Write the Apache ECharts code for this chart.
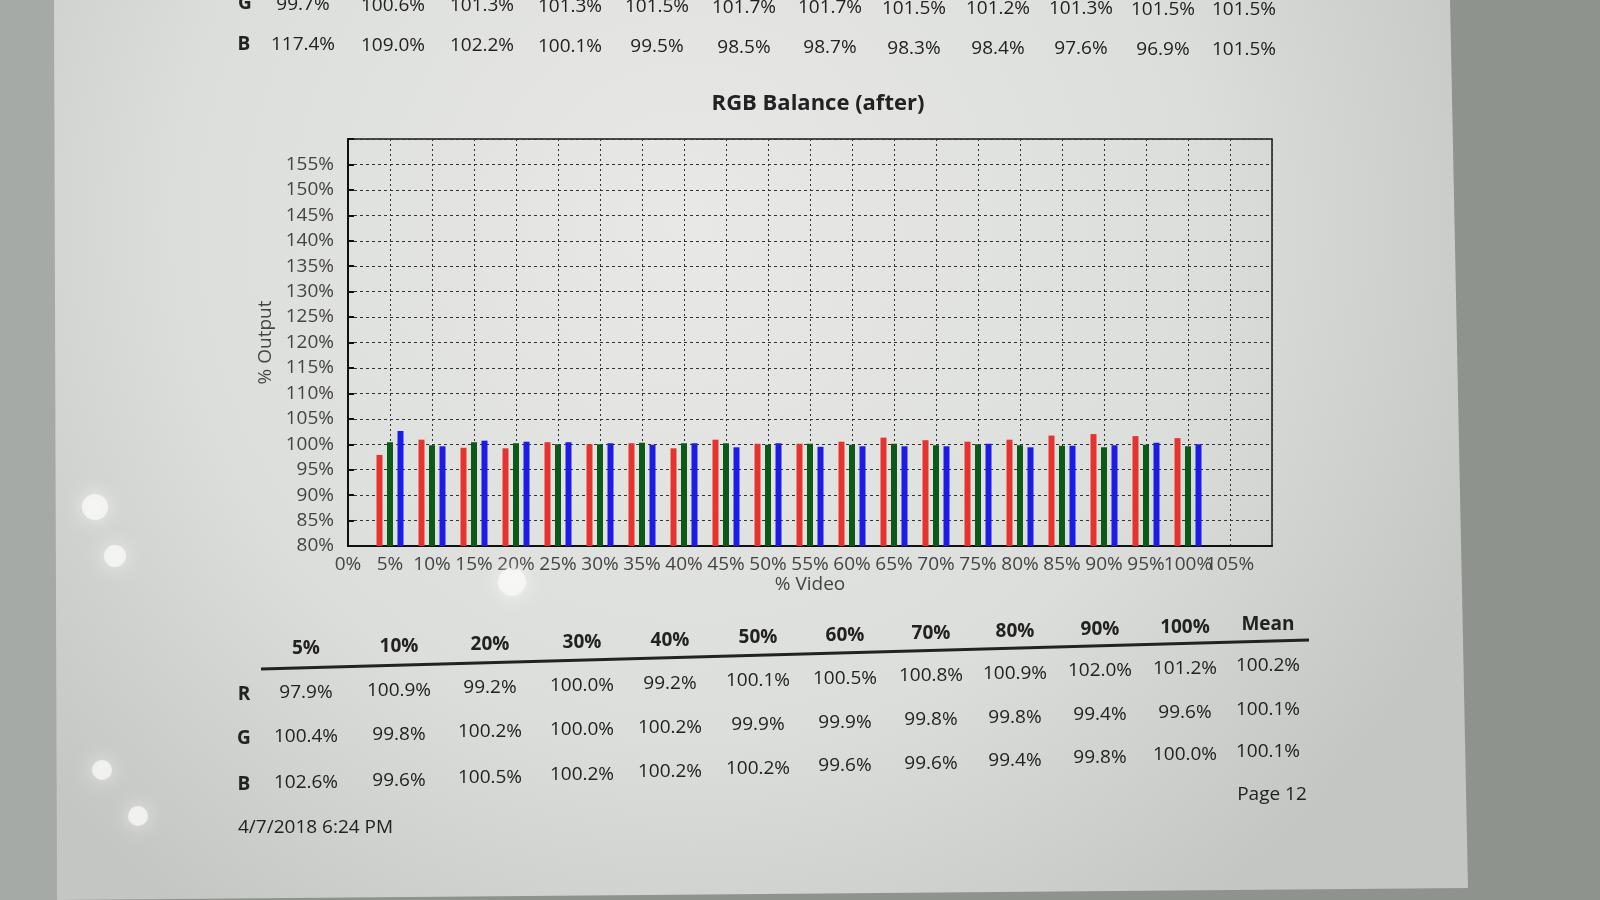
<!DOCTYPE html>
<html><head><meta charset="utf-8">
<script src="https://cdn.jsdelivr.net/npm/echarts@6/dist/echarts.min.js"></script>
<style>html,body{margin:0;padding:0;background:#9a9e9a}#c{width:1600px;height:900px}</style>
</head><body><div id="c"></div>
<script>
// ---------- DATA ----------
const xCategories = ['0%','5%','10%','15%','20%','25%','30%','35%','40%','45%','50%','55%','60%','65%','70%','75%','80%','85%','90%','95%','100%','105%','110%'];
const redValues   = [null,97.9,100.9,99.3,99.2,100.4,100.0,100.2,99.2,100.9,100.1,100.1,100.5,101.3,100.8,100.5,100.9,101.7,102.0,101.6,101.2,null,null];
const greenValues = [null,100.4,99.8,100.4,100.2,100.0,100.0,100.3,100.2,100.2,99.9,100.1,99.9,100.1,99.8,100.0,99.8,99.7,99.4,99.9,99.6,null,null];
const blueValues  = [null,102.6,99.6,100.7,100.5,100.4,100.2,99.9,100.2,99.4,100.2,99.5,99.6,99.6,99.6,100.1,99.4,99.7,99.8,100.3,100.0,null,null];
const yMin = 80, yMax = 160, yStep = 5;

// table above the chart (partially visible)
const topRowG = ['99.7%','100.6%','101.3%','101.3%','101.5%','101.7%','101.7%','101.5%','101.2%','101.3%','101.5%','101.5%'];
const topRowB = ['117.4%','109.0%','102.2%','100.1%','99.5%','98.5%','98.7%','98.3%','98.4%','97.6%','96.9%','101.5%'];

// table below the chart
const tableHeader = ['5%','10%','20%','30%','40%','50%','60%','70%','80%','90%','100%','Mean'];
const tableR = ['97.9%','100.9%','99.2%','100.0%','99.2%','100.1%','100.5%','100.8%','100.9%','102.0%','101.2%','100.2%'];
const tableG = ['100.4%','99.8%','100.2%','100.0%','100.2%','99.9%','99.9%','99.8%','99.8%','99.4%','99.6%','100.1%'];
const tableB = ['102.6%','99.6%','100.5%','100.2%','100.2%','100.2%','99.6%','99.6%','99.4%','99.8%','100.0%','100.1%'];

const chartTitle = 'RGB Balance (after)';
const pageLabel = 'Page 12';
const dateLabel = '4/7/2018 6:24 PM';

// ---------- LAYOUT ----------
const FONT = '"Open Sans","Noto Sans",sans-serif';
const topColX = [303,393,482,570,657,744,830,914,998,1081,1163,1244];
const botColX = [306,399,490,582,670,758,845,931,1015,1100,1185,1268];

function txt(text, x, y, size, opts) {
  opts = opts || {};
  return {
    type: 'text', z: 100,
    style: {
      text: text, x: x, y: y,
      font: (opts.bold ? 'bold ' : '') + size + 'px ' + FONT,
      fill: opts.color || '#222',
      align: opts.align || 'center', textAlign: opts.align || 'center',
      verticalAlign: 'middle', textVerticalAlign: 'middle'
    }
  };
}
function rowY(y0, y1, i) { return y0 + (y1 - y0) * i / 11; }

const graphics = [];
// photo background: screen bezel strips and page
graphics.push({ type: 'rect', z: -20, shape: { x: 0, y: 0, width: 60, height: 900 }, style: { fill: '#a6aaa7' } });
graphics.push({ type: 'polygon', z: -19, shape: { points: [[54,0],[1450,0],[1468,888],[57,900]] },
  style: { fill: new echarts.graphic.RadialGradient(0.45, 0.25, 0.95, [
    { offset: 0, color: '#e8e9e7' }, { offset: 0.6, color: '#dcdedb' }, { offset: 1, color: '#c3c6c2' }]) } });
// glare spots
[[95,507,13],[115,556,11],[102,770,10],[138,816,10],[512,582,14]].forEach(function (g) {
  graphics.push({ type: 'circle', z: 90, shape: { cx: g[0], cy: g[1], r: g[2] },
    style: { fill: 'rgba(250,250,248,0.75)', shadowBlur: 18, shadowColor: 'rgba(255,255,255,0.9)' } });
});

// top table
graphics.push(txt('G', 245, 4, 19, { bold: true }));
graphics.push(txt('B', 244, 45, 19, { bold: true }));
topRowG.forEach(function (v, i) { graphics.push(txt(v, topColX[i], rowY(5, 10, i), 19)); });
topRowB.forEach(function (v, i) { graphics.push(txt(v, topColX[i], rowY(45, 50, i), 19)); });

// title
graphics.push(txt(chartTitle, 818, 104, 22, { bold: true }));

// bottom table
tableHeader.forEach(function (v, i) { graphics.push(txt(v, botColX[i], rowY(649, 625, i), 19, { bold: true })); });
graphics.push({ type: 'line', z: 100, shape: { x1: 261, y1: 669, x2: 1309, y2: 640 }, style: { stroke: '#222', lineWidth: 3 } });
graphics.push(txt('R', 244, 695, 19, { bold: true }));
graphics.push(txt('G', 244, 739, 19, { bold: true }));
graphics.push(txt('B', 244, 785, 19, { bold: true }));
tableR.forEach(function (v, i) { graphics.push(txt(v, botColX[i], rowY(693, 666, i), 19)); });
tableG.forEach(function (v, i) { graphics.push(txt(v, botColX[i], rowY(737, 710, i), 19)); });
tableB.forEach(function (v, i) { graphics.push(txt(v, botColX[i], rowY(783, 752, i), 19)); });
graphics.push(txt(pageLabel, 1272, 795, 19));
graphics.push(txt(dateLabel, 238, 828, 19, { align: 'left' }));

// ---------- CHART ----------
const chart = echarts.init(document.getElementById('c'), null, { renderer: 'canvas' });
const barCommon = { type: 'bar', barWidth: 6, barGap: '75%', z: 5 };
chart.setOption({
  backgroundColor: '#8f938d',
  animation: false,
  graphic: { elements: graphics },
  grid: { left: 348, right: 328, top: 139, bottom: 354, show: true, borderColor: '#1a1a1a', borderWidth: 1.5, backgroundColor: 'transparent' },
  xAxis: {
    type: 'category', data: xCategories, boundaryGap: false,
    name: '% Video', nameLocation: 'middle', nameGap: 15,
    nameTextStyle: { fontFamily: FONT, fontSize: 19, color: '#444' },
    axisLine: { show: true, lineStyle: { color: '#111', width: 2 } },
    axisTick: { show: false },
    axisLabel: {
      interval: 0, margin: 9, fontFamily: FONT, fontSize: 19, color: '#444',
      formatter: function (v, i) { return i === xCategories.length - 1 ? '' : v; }
    },
    splitLine: { show: true, interval: 0, lineStyle: { color: '#333', width: 1, type: [2, 3] } }
  },
  yAxis: {
    type: 'value', min: yMin, max: yMax, interval: yStep,
    name: '% Output', nameLocation: 'middle', nameGap: 72, nameRotate: 90,
    nameTextStyle: { fontFamily: FONT, fontSize: 19, color: '#444' },
    axisLine: { show: true, lineStyle: { color: '#111', width: 2 } },
    axisTick: { show: true, inside: true, length: 6, lineStyle: { color: '#111', width: 2 } },
    axisLabel: {
      margin: 14, fontFamily: FONT, fontSize: 19, color: '#444',
      formatter: function (v) { return v === yMax ? '' : v + '%'; }
    },
    splitLine: { show: true, lineStyle: { color: '#333', width: 1, type: [3, 3] } }
  },
  series: [
    Object.assign({ name: 'R', data: redValues, itemStyle: { color: '#e8322e' } }, barCommon),
    Object.assign({ name: 'G', data: greenValues, itemStyle: { color: '#0b5a17' } }, barCommon),
    Object.assign({ name: 'B', data: blueValues, itemStyle: { color: '#1c1ce6' } }, barCommon)
  ]
});
</script></body></html>
